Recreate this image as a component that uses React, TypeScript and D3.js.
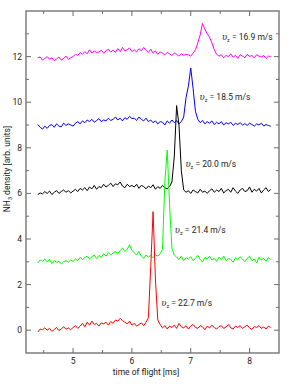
import * as d3 from 'd3';

// sampling grid of the time-of-flight traces [ms]
const times = d3.range(100).map(i => +(4.4 + i * 0.04).toFixed(2));

const redValues = [
  -0.08, 0.05, 0.02, 0.10, 0.00, 0.08, -0.05, 0.03, 0.12, -0.02, 0.06, 0.15, 0.04, 0.10, 0.02,
  0.12, 0.20, 0.08, 0.18, 0.30, 0.15, 0.35, 0.22, 0.40, 0.25, 0.30, 0.18, 0.32,
  0.28, 0.35, 0.22, 0.38, 0.30, 0.45, 0.40, 0.52, 0.42, 0.35, 0.28, 0.40, 0.22,
  0.30, 0.18, 0.25, 0.32, 0.20, 0.35, 0.55,
  2.8, 5.2, 2.2, 0.45,
  0.25, 0.10, 0.20, 0.05, 0.18, 0.12, 0.22, 0.08, 0.30, 0.15, 0.10, 0.20, 0.05, 0.18, 0.25, 0.12,
  0.08, 0.20, 0.15, 0.02, 0.18, 0.10, 0.22, 0.12, 0.05, 0.16, 0.20, 0.08, 0.14, 0.25, 0.10, 0.05,
  0.18, 0.12, 0.20, 0.08, 0.15, 0.22, 0.10, 0.03, 0.16, 0.12, 0.20, 0.08, 0.14, 0.05, 0.18, 0.12,
];

const greenValues = [
  2.95, 3.08, 3.02, 3.12, 3.00, 3.10, 2.92, 3.05, 2.98, 3.02, 2.90, 3.00, 3.05, 2.98, 3.08,
  3.02, 3.12, 3.05, 3.20, 3.10, 3.18, 3.25, 3.12, 3.22, 3.30, 3.15, 3.28, 3.20,
  3.35, 3.25, 3.40, 3.30, 3.38, 3.45, 3.35, 3.50, 3.60, 3.45, 3.55, 3.75, 3.50,
  3.40, 3.30, 3.45, 3.25, 3.15, 3.30, 3.20, 3.28, 3.18, 3.30, 3.25, 3.35, 3.55,
  6.5, 7.9, 5.5, 3.6, 3.3,
  3.20, 3.10, 3.25, 3.05, 3.18, 3.12, 3.22, 3.05, 3.15, 3.28, 3.10, 3.00, 3.18, 3.12, 3.25, 3.08,
  3.15, 3.02, 3.20, 3.10, 3.25, 3.05, 3.15, 3.10, 2.98, 3.18, 3.08, 3.22, 3.12, 3.00, 3.15, 3.25,
  3.05, 3.12, 2.95, 3.20, 3.08, 3.15, 3.02, 3.18, 3.10,
];

const blackValues = [
  5.95, 6.02, 5.98, 6.08, 6.00, 6.10, 5.95, 6.05, 6.12, 6.00, 6.08, 6.15, 6.05, 6.12, 6.02,
  6.10, 6.18, 6.08, 6.22, 6.15, 6.25, 6.12, 6.28, 6.20, 6.35, 6.18, 6.30, 6.25,
  6.40, 6.28, 6.35, 6.45, 6.30, 6.42, 6.38, 6.50, 6.32, 6.25, 6.40, 6.30, 6.35,
  6.28, 6.40, 6.22, 6.35, 6.30, 6.20, 6.32, 6.25, 6.38, 6.18, 6.30, 6.22, 6.35, 6.25, 6.20, 6.30,
  6.5, 7.6, 9.85, 9.0, 7.0, 6.15,
  6.05, 6.12, 6.00, 6.15, 6.08, 6.02, 6.18, 6.05, 6.10, 6.00, 6.12, 6.20, 6.05, 6.15, 6.08, 6.22,
  6.02, 6.12, 6.18, 6.05, 6.25, 6.10, 6.00, 6.15, 6.22, 6.08, 6.12, 6.28, 6.05, 6.18, 6.10, 6.22,
  6.02, 6.15, 6.25, 6.08, 6.18,
];

const blueValues = [
  9.02, 8.90, 8.82, 8.95, 8.85, 8.98, 9.02, 8.90, 9.05, 8.95, 8.92, 9.08, 8.98, 9.05, 9.00,
  8.95, 9.08, 9.15, 9.05, 9.18, 9.10, 9.22, 9.15, 9.25, 9.12, 9.20, 9.28, 9.15,
  9.22, 9.18, 9.30, 9.20, 9.25, 9.35, 9.22, 9.30, 9.18, 9.32, 9.25, 9.38, 9.28,
  9.30, 9.20, 9.35, 9.25, 9.18, 9.30, 9.15, 9.22, 9.10, 9.18, 9.05, 9.15, 9.12, 9.00, 9.18, 9.08,
  9.22, 9.10, 9.20, 9.05, 9.15,
  9.35, 10.2, 10.7, 11.5, 10.6, 9.6, 9.25,
  9.10, 9.20, 9.05, 9.15, 9.08, 9.18, 9.02, 9.12, 9.05, 9.15, 9.00, 9.10, 9.05, 9.12, 8.98, 9.08,
  9.02, 9.10, 9.00, 9.06, 8.98, 9.08, 9.02, 8.95, 9.05, 9.00, 9.08, 8.96, 9.02, 8.98, 8.94,
];

const magentaValues = [
  11.95, 11.98, 11.85, 11.92, 12.00, 11.88, 11.95, 11.82, 11.90, 11.98, 11.85, 11.92, 12.02, 11.88, 11.95,
  12.00, 12.10, 12.05, 12.18, 12.10, 12.22, 12.12, 12.30, 12.15, 12.25, 12.18, 12.20, 12.28,
  12.15, 12.25, 12.32, 12.20, 12.28, 12.18, 12.35, 12.22, 12.40, 12.25, 12.30, 12.38, 12.22,
  12.30, 12.20, 12.35, 12.25, 12.40, 12.28, 12.18, 12.32, 12.15, 12.25, 12.10, 12.20, 12.15, 12.08,
  12.18, 12.12, 12.05, 12.15, 12.10, 12.02, 12.12, 12.05, 12.10, 12.08, 12.02, 12.15, 12.30,
  12.6, 12.95, 13.45, 13.2, 13.0, 12.85, 12.6, 12.3, 12.1,
  12.02, 12.08, 11.95, 12.05, 12.00, 12.12, 11.98, 12.05, 11.92, 12.08, 12.02, 11.95, 12.10, 12.00,
  12.05, 11.95, 12.08, 12.02, 11.98, 12.05, 11.92, 12.02, 12.00,
];

const speeds = ['16.9', '18.5', '20.0', '21.4', '22.7'];
const colors = ['#ff00ff', '#0000ff', '#000000', '#00ff00', '#ff0000'];
const seriesValues = [magentaValues, blueValues, blackValues, greenValues, redValues];
// label anchor in data coordinates [time, density]
const labelTimes = [7.53, 7.15, 6.91, 6.73, 6.5];
const labelDensities = [12.88, 10.24, 7.3, 4.4, 1.19];

const xMajor = [5, 6, 7, 8];
const yMajor = [0, 2, 4, 6, 8, 10, 12];

const W = 295;
const H = 385;
const margin = { left: 26, top: 11, right: 16, bottom: 32 };
const font = "Roboto, 'Liberation Sans', sans-serif";
const axisColor = '#6b6b6b';
const textColor = '#222';

export default function App() {
  const x = d3.scaleLinear().domain([4.2, 8.5]).range([margin.left, W - margin.right]);
  const y = d3.scaleLinear().domain([-1, 14]).range([H - margin.bottom, margin.top]);
  const [x0, x1] = x.range();
  const [y0, y1] = y.range();

  const xMinor = d3.range(4.5, 8.5, 1);
  const yMinor = d3.range(-1, 14, 2).filter(v => v > -1);

  const line = d3.line<[number, number]>()
    .x(d => x(d[0]))
    .y(d => y(d[1]));

  return (
    <svg width={W} height={H} style={{ position: 'absolute', left: 0, top: 0 }} fontFamily={font}>
      <rect width={W} height={H} fill="#fff" />
      {seriesValues.map((vals, k) => (
        <path
          key={k}
          d={line(vals.map((v, i) => [times[i], v] as [number, number])) || ''}
          fill="none"
          stroke={colors[k]}
          strokeWidth={1}
          strokeLinejoin="round"
        />
      ))}

      {/* frame */}
      <rect x={x0} y={y1} width={x1 - x0} height={y0 - y1} fill="none" stroke={axisColor} strokeWidth={1.3} />

      {/* ticks, inward on all four sides */}
      {xMajor.map(v => (
        <g key={'xm' + v} stroke={axisColor}>
          <line x1={x(v)} x2={x(v)} y1={y0} y2={y0 - 5} />
          <line x1={x(v)} x2={x(v)} y1={y1} y2={y1 + 5} />
        </g>
      ))}
      {xMinor.map(v => (
        <g key={'xn' + v} stroke={axisColor}>
          <line x1={x(v)} x2={x(v)} y1={y0} y2={y0 - 3} />
          <line x1={x(v)} x2={x(v)} y1={y1} y2={y1 + 3} />
        </g>
      ))}
      {yMajor.map(v => (
        <g key={'ym' + v} stroke={axisColor}>
          <line x1={x0} x2={x0 + 5} y1={y(v)} y2={y(v)} />
          <line x1={x1} x2={x1 - 5} y1={y(v)} y2={y(v)} />
        </g>
      ))}
      {yMinor.map(v => (
        <g key={'yn' + v} stroke={axisColor}>
          <line x1={x0} x2={x0 + 3} y1={y(v)} y2={y(v)} />
          <line x1={x1} x2={x1 - 3} y1={y(v)} y2={y(v)} />
        </g>
      ))}

      {/* tick labels */}
      {xMajor.map(v => (
        <text key={'xl' + v} x={x(v)} y={y0 + 11} textAnchor="middle" fontSize={8.5} fill={textColor}>{v}</text>
      ))}
      {yMajor.map(v => (
        <text key={'yl' + v} x={x0 - 4} y={y(v) + 3} textAnchor="end" fontSize={8.5} fill={textColor}>{v}</text>
      ))}

      {/* axis titles */}
      <text x={146} y={H - 10} textAnchor="middle" fontSize={8.5} fill={textColor}>time of flight [ms]</text>
      <text transform={`translate(10,169) rotate(-90)`} textAnchor="middle" fontSize={8.5} fill={textColor}>
        NH<tspan fontSize={5.5} dy={2}>3</tspan><tspan dy={-2}> density [arb. units]</tspan>
      </text>

      {/* speed annotations */}
      {speeds.map((s, k) => (
        <text key={'sp' + k} x={x(labelTimes[k])} y={y(labelDensities[k]) + 3} fontSize={8.5} fill={textColor}>
          <tspan fontStyle="italic" fontFamily="'DejaVu Serif', serif">υ</tspan>
          <tspan fontSize={5.5} dy={2}>z</tspan>
          <tspan dy={-2}>{` = ${s} m/s`}</tspan>
        </text>
      ))}
    </svg>
  );
}
